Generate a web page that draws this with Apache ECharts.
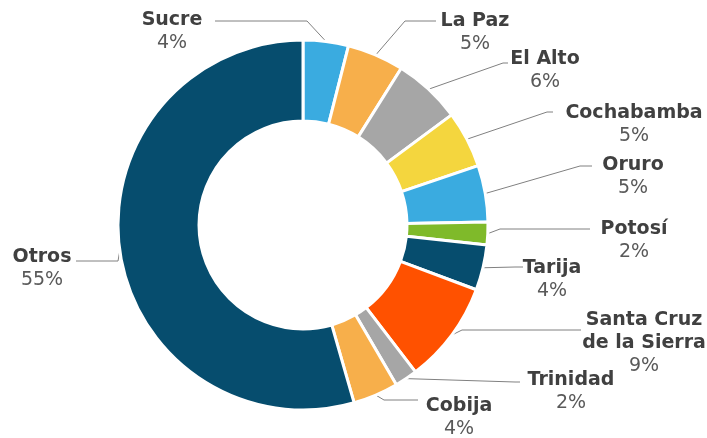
<!DOCTYPE html>
<html>
<head>
<meta charset="utf-8">
<script src="https://cdn.jsdelivr.net/npm/echarts@6/dist/echarts.min.js"></script>
<style>
  html, body { margin: 0; padding: 0; background: #fff; }
  #chart { width: 707px; height: 438px; }
</style>
</head>
<body>
<div id="chart"></div>
<script>
// data
const categories = ['Sucre', 'La Paz', 'El Alto', 'Cochabamba', 'Oruro', 'Potosí', 'Tarija',
    'Santa Cruz de la Sierra', 'Trinidad', 'Cobija', 'Otros'];
const shares = [4, 5, 6, 5, 5, 2, 4, 9, 2, 4, 55];

const colors = ['#3AABE0', '#F7AF4B', '#A6A6A6', '#F4D63E', '#3AABE0', '#7FBA2A', '#064D6E',
    '#FF5100', '#A6A6A6', '#F7AF4B', '#064D6E'];

// label centre x, y, elbow x, elbow y, line end x
const labelSpots = [
    [172, 32, 307, 21, 215],
    [475, 33, 405, 21, 436],
    [545, 71, 503, 63, 508],
    [634, 125, 547, 112, 553],
    [633, 177, 580, 166, 592],
    [634, 241, 500, 229, 590],
    [552, 280, 515, 267, 523],
    [644, 343, 462, 330, 581],
    [571, 392, 515, 382, 520],
    [459, 418, 384, 400, 418],
    [42, 269, 118, 261, 76]
];

const chart = echarts.init(document.getElementById('chart'));
chart.setOption({
    animation: false,
    textStyle: {fontFamily: 'DejaVu Sans'},
    series: [{
        type: 'pie',
        center: [303, 225],
        radius: [104, 185],
        startAngle: 90,
        clockwise: true,
        avoidLabelOverlap: false,
        itemStyle: {borderColor: '#fff', borderWidth: 3},
        label: {
            show: true,
            position: 'outside',
            formatter: function (p) {
                const lines = p.name.replace('Cruz de', 'Cruz\nde').split('\n');
                return lines.map(function (l) { return '{n|' + l + '}'; }).join('\n') +
                    '\n{p|' + p.value + '%}';
            },
            rich: {
                n: {fontSize: 19, fontWeight: 'bold', color: '#404040', lineHeight: 23, fontFamily: 'DejaVu Sans'},
                p: {fontSize: 19, color: '#595959', lineHeight: 23, fontFamily: 'DejaVu Sans'}
            }
        },
        labelLine: {show: true, length: 10, length2: 10, lineStyle: {color: '#808080', width: 1}},
        labelLayout: function (params) {
            const s = labelSpots[params.dataIndex];
            const start = params.labelLinePoints ? params.labelLinePoints[0] : [s[2], s[3]];
            return {
                x: s[0],
                y: s[1],
                align: 'center',
                verticalAlign: 'middle',
                labelLinePoints: [start, [s[2], s[3]], [s[4], s[3]]]
            };
        },
        data: categories.map(function (c, i) {
            return {name: c, value: shares[i], itemStyle: {color: colors[i]}};
        })
    }]
});
</script>
</body>
</html>
